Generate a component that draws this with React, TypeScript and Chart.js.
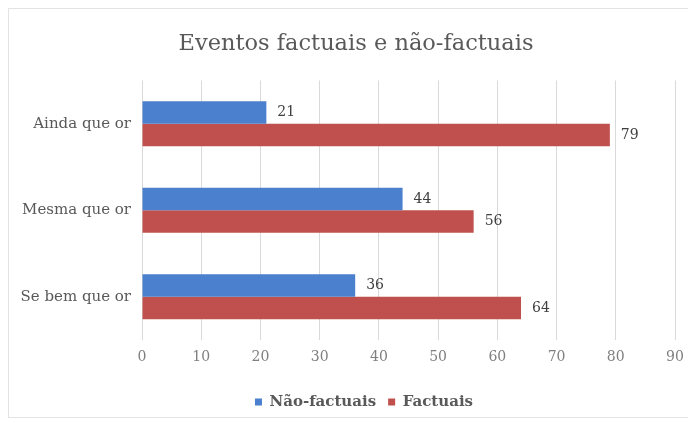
import React, { useEffect, useRef } from "react";
import { Chart, registerables } from "chart.js";

Chart.register(...registerables);

const categories = ["Ainda que or", "Mesma que or", "Se bem que or"];
const naoFactuais = [21, 44, 36];
const factuais = [79, 56, 64];
const seriesNames = ["Não-factuais", "Factuais"];
const titleText = "Eventos factuais e não-factuais";

const SERIF = "'DejaVu Serif', 'Liberation Serif', serif";

const valueLabels = {
  id: "valueLabels",
  afterDatasetsDraw(chart: any) {
    const ctx = chart.ctx;
    ctx.save();
    ctx.font = `14px ${SERIF}`;
    ctx.fillStyle = "#404040";
    ctx.textAlign = "left";
    ctx.textBaseline = "middle";
    chart.data.datasets.forEach((ds: any, i: number) => {
      const meta = chart.getDatasetMeta(i);
      meta.data.forEach((bar: any, j: number) => {
        ctx.fillText(String(ds.data[j]), bar.x + 11, bar.y);
      });
    });
    ctx.restore();
  },
};

const titlePlugin = {
  id: "customTitle",
  afterLayout(chart: any) {
    if (chart.legend) {
      chart.legend.left += 22;
      chart.legend.right += 22;
    }
  },
  afterDraw(chart: any) {
    const ctx = chart.ctx;
    ctx.save();
    ctx.font = `22.5px ${SERIF}`;
    ctx.fillStyle = "#595959";
    ctx.textAlign = "center";
    ctx.textBaseline = "middle";
    ctx.fillText(titleText, chart.width / 2 + 7, 35);
    ctx.restore();
  },
};

export default function App() {
  const ref = useRef<HTMLCanvasElement | null>(null);
  useEffect(() => {
    if (!ref.current) return;
    const chart = new Chart(ref.current, {
      type: "bar",
      data: {
        labels: categories,
        datasets: [
          {
            label: seriesNames[0],
            data: naoFactuais,
            backgroundColor: "#4a80cd",
            categoryPercentage: 0.52,
            barPercentage: 1.0,
          },
          {
            label: seriesNames[1],
            data: factuais,
            backgroundColor: "#c0504d",
            categoryPercentage: 0.52,
            barPercentage: 1.0,
          },
        ],
      },
      options: {
        indexAxis: "y",
        animation: false,
        responsive: false,
        maintainAspectRatio: false,
        layout: { padding: { left: 0, right: 14, top: 71.5, bottom: -2.5 } },
        plugins: {
          title: { display: false },
          legend: {
            position: "bottom",
            labels: {
              boxWidth: 7,
              boxHeight: 7,
              color: "#595959",
              font: { family: SERIF, size: 15, weight: "bold" },
              padding: 12,
            },
          },
          tooltip: { enabled: false },
        },
        scales: {
          x: {
            min: 0,
            max: 90,
            ticks: {
              stepSize: 10,
              color: "#7f7f7f",
              font: { family: SERIF, size: 14 },
              padding: 8.6,
            },
            grid: { color: "#d9d9d9", drawTicks: false },
            border: { display: false },
            afterFit(scale: any) {
              scale.height = 42.5;
              scale.paddingRight = 0;
              scale.paddingLeft = 0;
            },
          },
          y: {
            ticks: {
              color: "#595959",
              font: { family: SERIF, size: 15 },
              padding: 11,
            },
            grid: { display: false, drawTicks: false },
            border: { display: false },
            afterFit(scale: any) {
              scale.width = 133;
            },
          },
        },
      },
      plugins: [valueLabels, titlePlugin],
    });
    return () => chart.destroy();
  }, []);
  return (
    <div
      style={{
        width: 680,
        height: 408,
        border: "1px solid #e3e3e3",
        background: "#fff",
      }}
    >
      <canvas ref={ref} width={680} height={408} style={{ display: "block" }} />
    </div>
  );
}
